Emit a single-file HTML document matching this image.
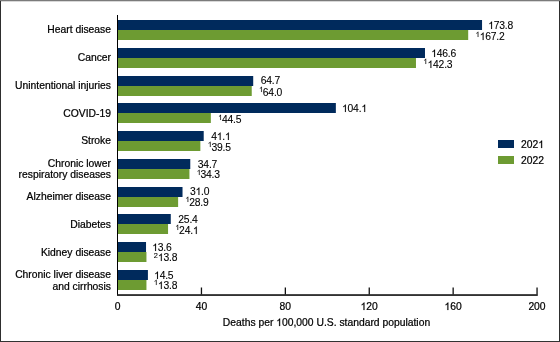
<!DOCTYPE html>
<html><head><meta charset="utf-8"><style>
html,body{margin:0;padding:0;background:#fff;}
body{width:560px;height:342px;overflow:hidden;}
svg{display:block;will-change:transform;}
.v{letter-spacing:-0.2px;stroke-width:0.1px;}
tspan.o{fill:transparent;stroke:none;}
text{font-family:"Liberation Sans",sans-serif;font-size:10.33px;fill:#000;stroke:#000;stroke-width:0.22px;}
</style></head><body>
<svg width="560" height="342" viewBox="0 0 560 342">
<rect x="0" y="0" width="560" height="342" fill="#fff"/>
<rect x="0" y="0" width="1" height="342" fill="#2e2e2e"/>
<rect x="559" y="0" width="1" height="342" fill="#2e2e2e"/>
<rect x="0" y="0" width="560" height="1" fill="#7b7b7b"/>
<rect x="1" y="1" width="558" height="1" fill="#d8d8d8"/>
<rect x="0" y="341" width="560" height="1" fill="#333"/>
<rect x="118" y="20" width="364.05" height="10" fill="#002a5c"/>
<rect x="118" y="30" width="350.20" height="10" fill="#6d9b32"/>
<text x="111" y="33" text-anchor="end">Heart disease</text>
<text class="v" x="488.2" y="28.90"><tspan class="o">1</tspan>73.8</text>
<text class="v" x="475.6" y="40.30"><tspan font-size="7.4" dy="-3.6"><tspan class="o">1</tspan></tspan><tspan dy="3.6" dx="0.2"><tspan class="o">1</tspan>67.2</tspan></text>
<rect x="118" y="48" width="306.99" height="10" fill="#002a5c"/>
<rect x="118" y="58" width="297.97" height="10" fill="#6d9b32"/>
<text x="111" y="61" text-anchor="end">Cancer</text>
<text class="v" x="431.2" y="56.66"><tspan class="o">1</tspan>46.6</text>
<text class="v" x="423.4" y="67.90"><tspan font-size="7.4" dy="-3.6"><tspan class="o">1</tspan></tspan><tspan dy="3.6" dx="0.2"><tspan class="o">1</tspan>42.3</tspan></text>
<rect x="118" y="76" width="135.21" height="10" fill="#002a5c"/>
<rect x="118" y="86" width="133.74" height="10" fill="#6d9b32"/>
<text x="111" y="89" text-anchor="end">Unintentional injuries</text>
<text class="v" x="260.7" y="84.42">64.7</text>
<text class="v" x="259.1" y="95.50"><tspan font-size="7.4" dy="-3.6"><tspan class="o">1</tspan></tspan><tspan dy="3.6" dx="-0.2">64.0</tspan></text>
<rect x="118" y="103" width="217.85" height="10" fill="#002a5c"/>
<rect x="118" y="113" width="92.84" height="10" fill="#6d9b32"/>
<text x="111" y="117" text-anchor="end">COVID-19</text>
<text class="v" x="342.0" y="112.18"><tspan class="o">1</tspan>04.<tspan class="o">1</tspan></text>
<text class="v" x="218.2" y="123.10"><tspan font-size="7.4" dy="-3.6"><tspan class="o">1</tspan></tspan><tspan dy="3.6" dx="-0.2">44.5</tspan></text>
<rect x="118" y="131" width="85.71" height="10" fill="#002a5c"/>
<rect x="118" y="141" width="82.35" height="10" fill="#6d9b32"/>
<text x="111" y="144" text-anchor="end">Stroke</text>
<text class="v" x="211.2" y="139.94">4<tspan class="o">1</tspan>.<tspan class="o">1</tspan></text>
<text class="v" x="207.8" y="150.70"><tspan font-size="7.4" dy="-3.6"><tspan class="o">1</tspan></tspan><tspan dy="3.6" dx="-0.2">39.5</tspan></text>
<rect x="118" y="159" width="72.28" height="10" fill="#002a5c"/>
<rect x="118" y="169" width="71.44" height="10" fill="#6d9b32"/>
<text x="111" y="167" text-anchor="end">Chronic lower</text>
<text x="111" y="178" text-anchor="end">respiratory diseases</text>
<text class="v" x="197.8" y="167.70">34.7</text>
<text class="v" x="196.8" y="178.30"><tspan font-size="7.4" dy="-3.6"><tspan class="o">1</tspan></tspan><tspan dy="3.6" dx="-0.2">34.3</tspan></text>
<rect x="118" y="187" width="64.52" height="10" fill="#002a5c"/>
<rect x="118" y="197" width="60.12" height="10" fill="#6d9b32"/>
<text x="111" y="200" text-anchor="end">Alzheimer disease</text>
<text class="v" x="190.0" y="195.46">3<tspan class="o">1</tspan>.0</text>
<text class="v" x="185.5" y="205.90"><tspan font-size="7.4" dy="-3.6"><tspan class="o">1</tspan></tspan><tspan dy="3.6" dx="-0.2">28.9</tspan></text>
<rect x="118" y="214" width="52.78" height="10" fill="#002a5c"/>
<rect x="118" y="224" width="50.05" height="10" fill="#6d9b32"/>
<text x="111" y="228" text-anchor="end">Diabetes</text>
<text class="v" x="178.3" y="223.22">25.4</text>
<text class="v" x="175.4" y="233.50"><tspan font-size="7.4" dy="-3.6"><tspan class="o">1</tspan></tspan><tspan dy="3.6" dx="-0.2">24.<tspan class="o">1</tspan></tspan></text>
<rect x="118" y="242" width="28.03" height="10" fill="#002a5c"/>
<rect x="118" y="252" width="28.45" height="10" fill="#6d9b32"/>
<text x="111" y="256" text-anchor="end">Kidney disease</text>
<text class="v" x="152.2" y="250.98"><tspan class="o">1</tspan>3.6</text>
<text class="v" x="153.8" y="261.10"><tspan font-size="7.4" dy="-3.6">2</tspan><tspan dy="3.6" dx="0.2"><tspan class="o">1</tspan>3.8</tspan></text>
<rect x="118" y="270" width="29.91" height="10" fill="#002a5c"/>
<rect x="118" y="280" width="28.45" height="10" fill="#6d9b32"/>
<text x="111" y="278" text-anchor="end">Chronic liver disease</text>
<text x="111" y="290" text-anchor="end">and cirrhosis</text>
<text class="v" x="154.1" y="278.74"><tspan class="o">1</tspan>4.5</text>
<text class="v" x="153.8" y="288.70"><tspan font-size="7.4" dy="-3.6"><tspan class="o">1</tspan></tspan><tspan dy="3.6" dx="0.2"><tspan class="o">1</tspan>3.8</tspan></text>
<rect x="117" y="15" width="1" height="280" fill="#000"/>
<rect x="117" y="294.2" width="420.8" height="1.7" fill="#1c1c1c"/>
<text x="117.50" y="310" text-anchor="middle">0</text>
<rect x="200.80" y="287.5" width="1.3" height="7" fill="#111"/>
<text x="201.40" y="310" text-anchor="middle">40</text>
<rect x="284.70" y="287.5" width="1.3" height="7" fill="#111"/>
<text x="285.30" y="310" text-anchor="middle">80</text>
<rect x="368.60" y="287.5" width="1.3" height="7" fill="#111"/>
<text x="369.20" y="310" text-anchor="middle"><tspan class="o">1</tspan>20</text>
<rect x="452.50" y="287.5" width="1.3" height="7" fill="#111"/>
<text x="453.10" y="310" text-anchor="middle"><tspan class="o">1</tspan>60</text>
<rect x="536.40" y="287.5" width="1.3" height="7" fill="#111"/>
<text x="537.00" y="310" text-anchor="middle">200</text>
<text x="326.5" y="326" text-anchor="middle">Deaths per <tspan class="o">1</tspan>00,000 U.S. standard population</text>
<rect x="498" y="140" width="16" height="8" fill="#002a5c"/>
<rect x="498" y="156" width="16" height="8" fill="#6d9b32"/>
<text x="521" y="147.8">202<tspan class="o">1</tspan></text>
<text x="521" y="163.5">2022</text>
<g fill="#000" stroke="#000"><path transform="translate(488.200,29) scale(0.005044,-0.005044)" d="M763 0L583 0L583 1147Q518 1085 412 1023Q306 961 222 930L222 1104Q373 1175 486 1276Q599 1377 646 1466L763 1466Z" stroke-width="19.8"/><path transform="translate(475.600,37) scale(0.003613,-0.003613)" d="M763 0L583 0L583 1147Q518 1085 412 1023Q306 961 222 930L222 1104Q373 1175 486 1276Q599 1377 646 1466L763 1466Z" stroke-width="27.7"/><path transform="translate(479.722,40) scale(0.005044,-0.005044)" d="M763 0L583 0L583 1147Q518 1085 412 1023Q306 961 222 930L222 1104Q373 1175 486 1276Q599 1377 646 1466L763 1466Z" stroke-width="19.8"/><path transform="translate(431.200,57) scale(0.005044,-0.005044)" d="M763 0L583 0L583 1147Q518 1085 412 1023Q306 961 222 930L222 1104Q373 1175 486 1276Q599 1377 646 1466L763 1466Z" stroke-width="19.8"/><path transform="translate(423.400,64) scale(0.003613,-0.003613)" d="M763 0L583 0L583 1147Q518 1085 412 1023Q306 961 222 930L222 1104Q373 1175 486 1276Q599 1377 646 1466L763 1466Z" stroke-width="27.7"/><path transform="translate(427.522,68) scale(0.005044,-0.005044)" d="M763 0L583 0L583 1147Q518 1085 412 1023Q306 961 222 930L222 1104Q373 1175 486 1276Q599 1377 646 1466L763 1466Z" stroke-width="19.8"/><path transform="translate(259.100,92) scale(0.003613,-0.003613)" d="M763 0L583 0L583 1147Q518 1085 412 1023Q306 961 222 930L222 1104Q373 1175 486 1276Q599 1377 646 1466L763 1466Z" stroke-width="27.7"/><path transform="translate(342.000,112) scale(0.005044,-0.005044)" d="M763 0L583 0L583 1147Q518 1085 412 1023Q306 961 222 930L222 1104Q373 1175 486 1276Q599 1377 646 1466L763 1466Z" stroke-width="19.8"/><path transform="translate(361.312,112) scale(0.005044,-0.005044)" d="M763 0L583 0L583 1147Q518 1085 412 1023Q306 961 222 930L222 1104Q373 1175 486 1276Q599 1377 646 1466L763 1466Z" stroke-width="19.8"/><path transform="translate(218.200,120) scale(0.003613,-0.003613)" d="M763 0L583 0L583 1147Q518 1085 412 1023Q306 961 222 930L222 1104Q373 1175 486 1276Q599 1377 646 1466L763 1466Z" stroke-width="27.7"/><path transform="translate(216.747,140) scale(0.005044,-0.005044)" d="M763 0L583 0L583 1147Q518 1085 412 1023Q306 961 222 930L222 1104Q373 1175 486 1276Q599 1377 646 1466L763 1466Z" stroke-width="19.8"/><path transform="translate(224.966,140) scale(0.005044,-0.005044)" d="M763 0L583 0L583 1147Q518 1085 412 1023Q306 961 222 930L222 1104Q373 1175 486 1276Q599 1377 646 1466L763 1466Z" stroke-width="19.8"/><path transform="translate(207.800,147) scale(0.003613,-0.003613)" d="M763 0L583 0L583 1147Q518 1085 412 1023Q306 961 222 930L222 1104Q373 1175 486 1276Q599 1377 646 1466L763 1466Z" stroke-width="27.7"/><path transform="translate(196.800,175) scale(0.003613,-0.003613)" d="M763 0L583 0L583 1147Q518 1085 412 1023Q306 961 222 930L222 1104Q373 1175 486 1276Q599 1377 646 1466L763 1466Z" stroke-width="27.7"/><path transform="translate(195.547,195) scale(0.005044,-0.005044)" d="M763 0L583 0L583 1147Q518 1085 412 1023Q306 961 222 930L222 1104Q373 1175 486 1276Q599 1377 646 1466L763 1466Z" stroke-width="19.8"/><path transform="translate(185.500,202) scale(0.003613,-0.003613)" d="M763 0L583 0L583 1147Q518 1085 412 1023Q306 961 222 930L222 1104Q373 1175 486 1276Q599 1377 646 1466L763 1466Z" stroke-width="27.7"/><path transform="translate(175.400,230) scale(0.003613,-0.003613)" d="M763 0L583 0L583 1147Q518 1085 412 1023Q306 961 222 930L222 1104Q373 1175 486 1276Q599 1377 646 1466L763 1466Z" stroke-width="27.7"/><path transform="translate(192.887,234) scale(0.005044,-0.005044)" d="M763 0L583 0L583 1147Q518 1085 412 1023Q306 961 222 930L222 1104Q373 1175 486 1276Q599 1377 646 1466L763 1466Z" stroke-width="19.8"/><path transform="translate(152.200,251) scale(0.005044,-0.005044)" d="M763 0L583 0L583 1147Q518 1085 412 1023Q306 961 222 930L222 1104Q373 1175 486 1276Q599 1377 646 1466L763 1466Z" stroke-width="19.8"/><path transform="translate(157.922,261) scale(0.005044,-0.005044)" d="M763 0L583 0L583 1147Q518 1085 412 1023Q306 961 222 930L222 1104Q373 1175 486 1276Q599 1377 646 1466L763 1466Z" stroke-width="19.8"/><path transform="translate(154.100,279) scale(0.005044,-0.005044)" d="M763 0L583 0L583 1147Q518 1085 412 1023Q306 961 222 930L222 1104Q373 1175 486 1276Q599 1377 646 1466L763 1466Z" stroke-width="19.8"/><path transform="translate(153.800,285) scale(0.003613,-0.003613)" d="M763 0L583 0L583 1147Q518 1085 412 1023Q306 961 222 930L222 1104Q373 1175 486 1276Q599 1377 646 1466L763 1466Z" stroke-width="27.7"/><path transform="translate(157.922,289) scale(0.005044,-0.005044)" d="M763 0L583 0L583 1147Q518 1085 412 1023Q306 961 222 930L222 1104Q373 1175 486 1276Q599 1377 646 1466L763 1466Z" stroke-width="19.8"/><path transform="translate(360.575,310) scale(0.005044,-0.005044)" d="M763 0L583 0L583 1147Q518 1085 412 1023Q306 961 222 930L222 1104Q373 1175 486 1276Q599 1377 646 1466L763 1466Z" stroke-width="43.6"/><path transform="translate(444.475,310) scale(0.005044,-0.005044)" d="M763 0L583 0L583 1147Q518 1085 412 1023Q306 961 222 930L222 1104Q373 1175 486 1276Q599 1377 646 1466L763 1466Z" stroke-width="43.6"/><path transform="translate(276.242,326) scale(0.005044,-0.005044)" d="M763 0L583 0L583 1147Q518 1085 412 1023Q306 961 222 930L222 1104Q373 1175 486 1276Q599 1377 646 1466L763 1466Z" stroke-width="43.6"/><path transform="translate(538.234,148) scale(0.005044,-0.005044)" d="M763 0L583 0L583 1147Q518 1085 412 1023Q306 961 222 930L222 1104Q373 1175 486 1276Q599 1377 646 1466L763 1466Z" stroke-width="43.6"/></g>
</svg>
</body></html>
